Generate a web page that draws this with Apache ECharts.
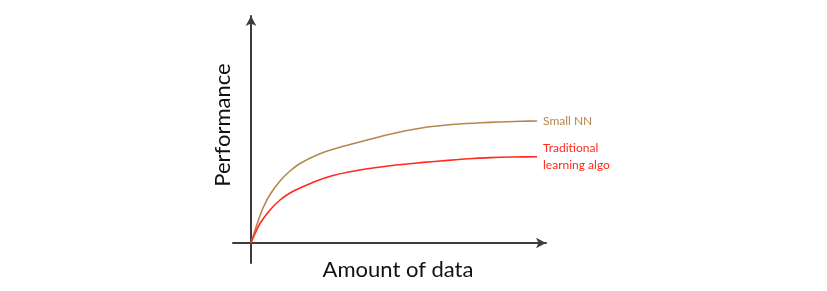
<!DOCTYPE html>
<html>
<head>
<meta charset="utf-8">
<script src="https://cdn.jsdelivr.net/npm/echarts@6/dist/echarts.min.js"></script>
<style>
html,body{margin:0;padding:0;background:#fff;}
#chart{width:827px;height:291px;}
</style>
</head>
<body>
<div id="chart"></div>
<script>
// Amount of data (x) vs performance (y), arbitrary units
const smallNN = [[0,0],[2.5,8],[5.7,18],[12,35],[19,48.5],[29,62],[39,72],[49,79.5],[66,88],[82,93.7],[99,98.5],[122,104.5],[139,108.8],[156,112.5],[172,115.3],[189,117.3],[205,118.8],[222,119.8],[239,120.6],[256,121.3],[271,121.7],[286,122]];
const traditional = [[0,0],[2.5,6],[9,19.5],[19,33],[29,43],[39,50],[49,55],[66,62.3],[82,67.5],[99,71.3],[122,75],[139,77.2],[156,79],[172,80.6],[189,82],[205,83.3],[222,84.5],[239,85.4],[262,86],[286,86.2]];
const seriesNames = ['Small NN', 'Traditional\nlearning algo'];
const xTitle = 'Amount of data';
const yTitle = 'Performance';

const chart = echarts.init(document.getElementById('chart'));
const axisColor = '#3c3c3c';
chart.setOption({
  animation: false,
  grid: {left: 233, right: 281, top: 16, bottom: 28, containLabel: false},
  xAxis: {
    type: 'value', min: -18, max: 295,
    axisLine: {onZero: true, lineStyle: {color: axisColor, width: 2}, symbol: ['none', 'arrow'], symbolSize: [8, 10]},
    axisTick: {show: false}, axisLabel: {show: false}, splitLine: {show: false}
  },
  yAxis: {
    type: 'value', min: -20, max: 227,
    axisLine: {onZero: true, lineStyle: {color: axisColor, width: 2}, symbol: ['none', 'arrow'], symbolSize: [8, 10]},
    axisTick: {show: false}, axisLabel: {show: false}, splitLine: {show: false}
  },
  graphic: [
    {type: 'text', x: 398, y: 270, style: {text: xTitle, font: '22px Lato', fill: '#111', align: 'center', verticalAlign: 'middle'}},
    {type: 'text', x: 223, y: 125, rotation: Math.PI / 2, style: {text: yTitle, font: '22px Lato', fill: '#111', align: 'center', verticalAlign: 'middle'}}
  ],
  series: [
    {
      name: seriesNames[0], type: 'line', data: smallNN, smooth: 0.3, showSymbol: false,
      lineStyle: {color: '#B5874E', width: 1.6},
      endLabel: {show: true, formatter: seriesNames[0], color: '#B5874E', fontFamily: 'Lato', fontSize: 12, distance: 6}
    },
    {
      name: seriesNames[1], type: 'line', data: traditional, smooth: 0.3, showSymbol: false,
      lineStyle: {color: '#FF2A1A', width: 1.6},
      endLabel: {show: true, formatter: seriesNames[1], color: '#FF2A1A', fontFamily: 'Lato', fontSize: 12, lineHeight: 17, distance: 6}
    }
  ]
});
</script>
</body>
</html>
